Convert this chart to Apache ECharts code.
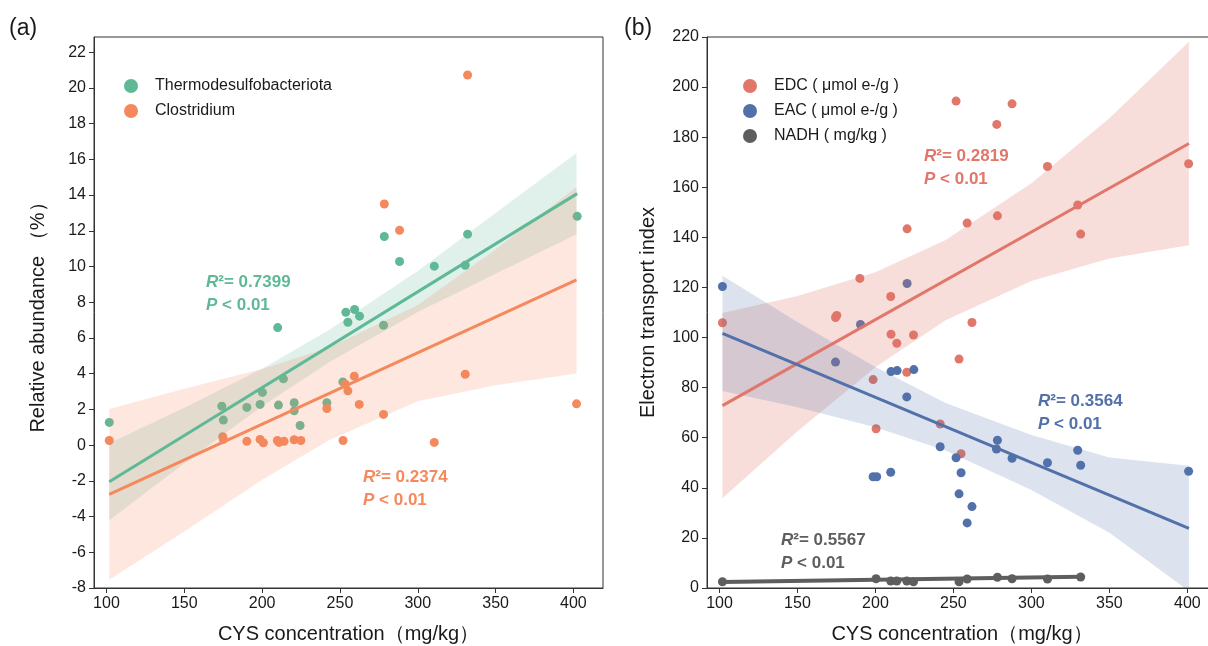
<!DOCTYPE html>
<html>
<head>
<meta charset="utf-8">
<script src="https://cdn.jsdelivr.net/npm/echarts@6/dist/echarts.min.js"></script>
<style>
  html, body { margin: 0; padding: 0; background: #fff; }
  #chart { width: 1208px; height: 646px; }
</style>
</head>
<body>
<div id="chart"></div>
<script>
// ---- data ----
// (a) relative abundance vs CYS concentration
const thermoX = [101.8, 174.1, 175.1, 190.2, 198.7, 200.2, 210.0, 210.5, 213.7, 220.6, 220.6, 224.4, 241.6,
  251.9, 253.8, 255.1, 259.4, 262.6, 278.0, 278.5, 288.3, 310.6, 330.5, 332.0, 402.4];
const thermoY = [1.27, 2.18, 1.40, 2.11, 2.28, 2.95, 6.58, 2.24, 3.71, 2.37, 1.92, 1.10, 2.37,
  3.54, 7.44, 6.88, 7.59, 7.22, 6.71, 11.68, 10.28, 10.02, 10.07, 11.81, 12.81];
const clostX = [101.8, 174.7, 175.1, 190.2, 198.7, 200.8, 209.8, 210.9, 214.1, 220.6, 224.9, 241.6,
  252.0, 253.4, 255.1, 259.2, 262.4, 278.0, 278.5, 288.3, 310.6, 330.5, 332.0, 402.0];
const clostY = [0.26, 0.47, 0.32, 0.21, 0.32, 0.13, 0.26, 0.15, 0.21, 0.30, 0.26, 2.05,
  0.26, 3.41, 3.04, 3.86, 2.28, 1.72, 13.5, 12.03, 0.15, 3.97, 20.72, 2.31];

// fitted lines (end points) and confidence bands
const thermoFitX = [101.8, 402.4];
const thermoFitY = [-2.05, 14.08];
const clostFitX = [101.8, 402.0];
const clostFitY = [-2.76, 9.25];
const bandAX = [101.8, 150, 200, 243, 300, 350, 402];
const thermoLo = [-4.2, -1.01, 2.18, 4.64, 7.45, 9.59, 11.8];
const thermoHi = [0.1, 2.09, 4.28, 6.44, 9.75, 12.99, 16.36];
const clostLo = [-7.54, -4.84, -1.94, 0.27, 2.45, 3.35, 4.01];
const clostHi = [2.02, 3.16, 4.26, 5.47, 7.85, 10.95, 14.45];

// (b) electron transport index vs CYS concentration
const edcX = [101.9, 174.4, 175.2, 190.0, 198.5, 200.4, 209.8, 210.0, 213.7, 220.1, 220.3, 224.4, 241.5,
  251.7, 253.6, 254.9, 258.8, 261.9, 277.8, 278.2, 287.6, 310.3, 329.7, 331.6, 400.8];
const edcY = [105.9, 108.0, 108.8, 123.6, 83.2, 63.6, 116.4, 101.3, 97.7, 86.1, 143.4, 101.0, 65.5,
  194.4, 91.4, 53.6, 145.7, 106.0, 185.1, 148.6, 193.3, 168.3, 152.9, 141.3, 169.4];
const eacX = [101.9, 174.4, 190.4, 198.5, 200.8, 209.8, 210.0, 213.9, 220.1, 220.3, 224.6, 241.5,
  251.7, 253.6, 254.9, 258.8, 261.9, 277.6, 278.2, 287.6, 310.3, 329.7, 331.6, 400.8];
const eacY = [120.4, 90.2, 105.2, 44.4, 44.4, 46.2, 86.4, 86.8, 76.3, 121.6, 87.2, 56.4,
  52.0, 37.6, 46.0, 26.0, 32.5, 55.5, 59.0, 51.8, 50.0, 55.0, 49.0, 46.6];
const nadhX = [101.9, 200.4, 209.8, 213.7, 220.1, 224.4, 253.6, 258.8, 278.2, 287.6, 310.3, 331.6];
const nadhY = [2.5, 3.7, 2.8, 2.8, 2.8, 2.5, 2.5, 3.6, 4.3, 3.7, 3.6, 4.4];

const edcFitX = [101.9, 401.0];
const edcFitY = [72.8, 177.5];
const eacFitX = [101.9, 401.0];
const eacFitY = [101.7, 23.8];
const nadhFitX = [101.9, 331.6];
const nadhFitY = [2.4, 4.5];
const bandBX = [101.9, 150, 200, 245, 300, 350, 401];
const edcLo = [35.8, 62.6, 88.1, 106.9, 122.6, 131.6, 136.9];
const edcHi = [109.8, 116.6, 126.1, 138.9, 161.6, 187.6, 218.1];
const eacLo = [78.7, 72.2, 64.2, 54.9, 39.1, 22.1, -1.2];
const eacHi = [124.7, 106.2, 88.2, 73.9, 61.1, 52.1, 48.8];

// tick labels
const xTicks = [100, 150, 200, 250, 300, 350, 400];
const yTicksA = [-8, -6, -4, -2, 0, 2, 4, 6, 8, 10, 12, 14, 16, 18, 20, 22];
const yTicksB = [0, 20, 40, 60, 80, 100, 120, 140, 160, 180, 200, 220];

// ---- styles ----
const FONT = 'Arial, "Liberation Sans", sans-serif';
const TXT = '#1a1a1a';
const AXC = '#333';
const GREEN = '#5fb996';
const ORANGE = '#f4895d';
const RED = '#e1766a';
const BLUE = '#5271aa';
const GRAY = '#5e5e5e';

const zip = (xs, ys) => xs.map((x, i) => [x, ys[i]]);

function xAxisFor(gridIndex) {
  return {
    type: 'value', gridIndex, min: 92, max: 419,
    axisLine: { show: true, onZero: false, lineStyle: { color: AXC, width: 1 } },
    axisTick: { show: true, customValues: xTicks, length: 5, lineStyle: { color: AXC } },
    axisLabel: { customValues: xTicks, fontSize: 16, color: TXT, fontFamily: FONT, margin: 8 },
    splitLine: { show: false },
    name: 'CYS concentration（mg/kg）', nameLocation: 'middle', nameGap: 36,
    nameTextStyle: { fontSize: 20, color: TXT, fontFamily: FONT }
  };
}

function yAxisFor(gridIndex, min, max, ticks, name, gap) {
  return {
    type: 'value', gridIndex, min, max,
    axisLine: { show: true, onZero: false, lineStyle: { color: AXC, width: 1 } },
    axisTick: { show: true, customValues: ticks, length: 5, lineStyle: { color: AXC } },
    axisLabel: { customValues: ticks, fontSize: 16, color: TXT, fontFamily: FONT, margin: 8 },
    splitLine: { show: false },
    name, nameLocation: 'middle', nameGap: gap,
    nameTextStyle: { fontSize: 20, color: TXT, fontFamily: FONT }
  };
}

function scatter(name, xs, ys, color, g) {
  return {
    name, type: 'scatter', xAxisIndex: g, yAxisIndex: g,
    data: zip(xs, ys), symbolSize: 9, itemStyle: { color, opacity: 1 }, z: 2
  };
}

// 置信带：用坐标系换算后画成一个多边形
function band(xs, lo, hi, color, alpha, g) {
  const data = xs.map((x, i) => [x, lo[i], hi[i]]);
  return {
    type: 'custom', xAxisIndex: g, yAxisIndex: g, z: 3, silent: true,
    data,
    renderItem(params, api) {
      if (params.dataIndex !== 0) return;
      const pts = [];
      data.forEach(d => pts.push(api.coord([d[0], d[2]])));
      data.slice().reverse().forEach(d => pts.push(api.coord([d[0], d[1]])));
      const cs = params.coordSys;
      return {
        type: 'polygon',
        shape: { points: pts },
        style: { fill: color, opacity: alpha },
        clipPath: { type: 'rect', shape: { x: cs.x, y: cs.y, width: cs.width, height: cs.height } }
      };
    }
  };
}

function fitLine(xs, ys, color, g, width) {
  return {
    type: 'line', xAxisIndex: g, yAxisIndex: g, data: zip(xs, ys),
    showSymbol: false, silent: true, z: 4,
    lineStyle: { color, width: width || 3 }
  };
}

function note(x, y, r2, color) {
  return {
    type: 'text', x, y, z: 10,
    style: {
      text: '{i|R}{b|²= ' + r2 + '}\n{i|P}{b| < 0.01}',
      fill: color,
      rich: {
        i: { fontFamily: FONT, fontSize: 17, fontWeight: 'bold', fontStyle: 'italic', fill: color, lineHeight: 23 },
        b: { fontFamily: FONT, fontSize: 17, fontWeight: 'bold', fill: color, lineHeight: 23 }
      }
    }
  };
}

const legendBase = {
  orient: 'vertical', icon: 'circle', itemWidth: 14, itemHeight: 14, itemGap: 9,
  textStyle: { fontSize: 16, color: TXT, fontFamily: FONT, padding: [0, 0, 0, 12] }
};

const chart = echarts.init(document.getElementById('chart'));

const option = {
  animation: false,
  backgroundColor: '#fff',
  grid: [
    { left: 94, top: 37, width: 509, height: 551, show: true, borderColor: AXC, borderWidth: 1,
      containLabel: false, outerBoundsMode: 'none' },
    { left: 707, top: 37, width: 510, height: 551, show: true, borderColor: AXC, borderWidth: 1,
      containLabel: false, outerBoundsMode: 'none' }
  ],
  xAxis: [xAxisFor(0), xAxisFor(1)],
  yAxis: [
    yAxisFor(0, -8, 22.85, yTicksA, 'Relative abundance （%）', 46),
    yAxisFor(1, 0, 220, yTicksB, 'Electron transport index', 49)
  ],
  legend: [
    Object.assign({}, legendBase, { left: 119, top: 73, data: ['Thermodesulfobacteriota', 'Clostridium'] }),
    Object.assign({}, legendBase, { left: 738, top: 73, data: ['EDC ( μmol e-/g )', 'EAC ( μmol e-/g )', 'NADH ( mg/kg )'] })
  ],
  series: [
    scatter('Thermodesulfobacteriota', thermoX, thermoY, GREEN, 0),
    scatter('Clostridium', clostX, clostY, ORANGE, 0),
    band(bandAX, thermoLo, thermoHi, GREEN, 0.2, 0),
    band(bandAX, clostLo, clostHi, ORANGE, 0.2, 0),
    fitLine(thermoFitX, thermoFitY, GREEN, 0),
    fitLine(clostFitX, clostFitY, ORANGE, 0),

    scatter('EDC ( μmol e-/g )', edcX, edcY, RED, 1),
    scatter('EAC ( μmol e-/g )', eacX, eacY, BLUE, 1),
    scatter('NADH ( mg/kg )', nadhX, nadhY, GRAY, 1),
    band(bandBX, edcLo, edcHi, RED, 0.24, 1),
    band(bandBX, eacLo, eacHi, BLUE, 0.2, 1),
    fitLine(edcFitX, edcFitY, RED, 1),
    fitLine(eacFitX, eacFitY, BLUE, 1),
    fitLine(nadhFitX, nadhFitY, GRAY, 1, 4)
  ],
  graphic: [
    { type: 'text', x: 9, y: 17, style: { text: '(a)', fontSize: 23, fontFamily: FONT, fill: TXT } },
    { type: 'text', x: 624, y: 17, style: { text: '(b)', fontSize: 23, fontFamily: FONT, fill: TXT } },
    note(206, 271, '0.7399', GREEN),
    note(363, 466, '0.2374', ORANGE),
    note(924, 145, '0.2819', RED),
    note(1038, 390, '0.3564', BLUE),
    note(781, 529, '0.5567', GRAY)
  ]
};

chart.setOption(option);
</script>
</body>
</html>
